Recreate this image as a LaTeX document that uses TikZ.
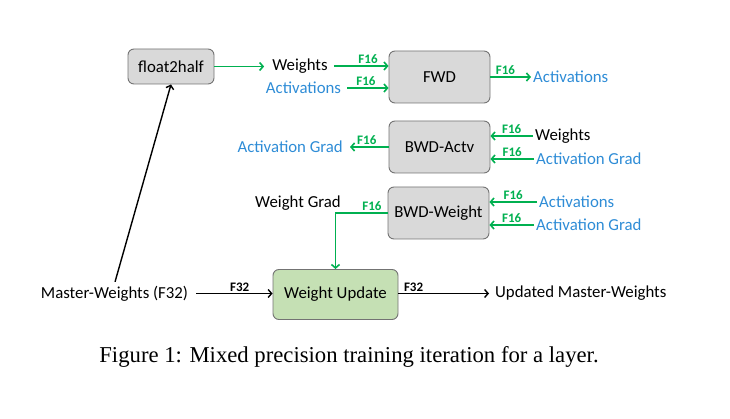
\documentclass[tikz,border=0pt]{standalone}
\usepackage{fontspec}
\setmainfont{Carlito}
\newfontfamily\capfont{Liberation Serif}
\usetikzlibrary{arrows.meta,positioning}
\definecolor{fgreen}{RGB}{0,176,80}
\definecolor{tblue}{RGB}{46,140,214}
\definecolor{boxgray}{RGB}{217,217,217}
\definecolor{wugreen}{RGB}{197,224,180}

\begin{document}
\begin{tikzpicture}[x=1pt, y=-1pt,
    block/.style={draw=black!55, fill=boxgray, rounded corners=6pt, line width=0.9pt,
        minimum width=101pt, minimum height=52pt, font=\fontsize{16.8}{20}\selectfont},
    txt/.style={font=\fontsize{16.8}{20}\selectfont, inner sep=2pt},
    blu/.style={txt, text=tblue},
    garrow/.style={-{Straight Barb[length=3.5pt,width=8pt]}, fgreen, line width=1.6pt},
    barrow/.style={-{Straight Barb[length=3.5pt,width=8pt]}, black, line width=1.4pt},
    flab/.style={above, inner sep=1.5pt, text=fgreen, font=\bfseries\fontsize{13}{15}\selectfont},
    blab/.style={above, inner sep=1.5pt, text=black, font=\bfseries\fontsize{13}{15}\selectfont}
]
\useasboundingbox (0,0) rectangle (730,419);

% Blocchi
\node[block, minimum width=86pt, minimum height=35pt] (f2h) at (171,66.5) {float2half};
\node[block] (fwd) at (439.5,77) {FWD};
\node[block] (bwda) at (439.5,147) {BWD-Actv};
\node[block] (bwdw) at (438.5,213) {BWD-Weight};
\node[block, fill=wugreen, minimum width=125pt, minimum height=50pt] (wu) at (335.5,294.5) {Weight Update};

% Etichette di ingresso e uscita
\node[txt] (wts1) at (300,66) {Weights};
\node[blu] (act1) at (303.5,88) {Activations};
\node[blu, anchor=west] (act2) at (531,77) {Activations};
\node[blu, anchor=east] (agrad1) at (345,147) {Activation Grad};
\node[txt, anchor=west] (wts2) at (533,136) {Weights};
\node[blu, anchor=west] (agrad2) at (534,159) {Activation Grad};
\node[blu, anchor=west] (act3) at (537,202) {Activations};
\node[blu, anchor=west] (agrad3) at (534,225) {Activation Grad};
\node[txt] (wgrad) at (298,203) {Weight Grad};
\node[txt] (mw) at (114.5,293.5) {Master-Weights (F32)};
\node[txt, anchor=west] (umw) at (493,293.5) {Updated Master-Weights};

% Didascalia
\node[anchor=base, inner sep=0pt, font=\capfont\fontsize{22.7}{26}\selectfont] (cap) at (349,362)
    {Figure 1: Mixed precision training iteration for a layer.};

% Frecce F16
\draw[garrow, shorten >=6pt] (f2h.east) -- (f2h.east -| wts1.west);
\draw[garrow, shorten <=4pt] (wts1.east) -- (wts1.east -| fwd.west) node[flab, pos=0.65] {F16};
\draw[garrow, shorten <=4pt] (act1.east) -- (act1.east -| fwd.west) node[flab, pos=0.5] {F16};
\draw[garrow] (fwd.east) -- (act2.west) node[flab, pos=0.37] {F16};
\draw[garrow, shorten >=5pt] (bwda.west) -- (agrad1.east) node[flab, midway] {F16};
\draw[garrow] (wts2.west) -- (wts2.west -| bwda.east) node[flab, midway] {F16};
\draw[garrow] (agrad2.west) -- (agrad2.west -| bwda.east) node[flab, midway] {F16};
\draw[garrow] (act3.west) -- (act3.west -| bwdw.east) node[flab, midway] {F16};
\draw[garrow] (agrad3.west) -- (agrad3.west -| bwdw.east) node[flab, midway] {F16};
\draw[garrow] (bwdw.west) -| (wu.north) node[flab, pos=0.15] {F16};

% Frecce F32
\draw[barrow, shorten <=6pt] (mw.east) -- (mw.east -| wu.west) node[blab, pos=0.6] {F32};
\draw[barrow, shorten >=4pt] (wu.east |- umw.west) -- (umw.west) node[blab, pos=0.16] {F32};
\draw[barrow, shorten <=2pt] (mw.north) -- (f2h.south);

\end{tikzpicture}
\end{document}
